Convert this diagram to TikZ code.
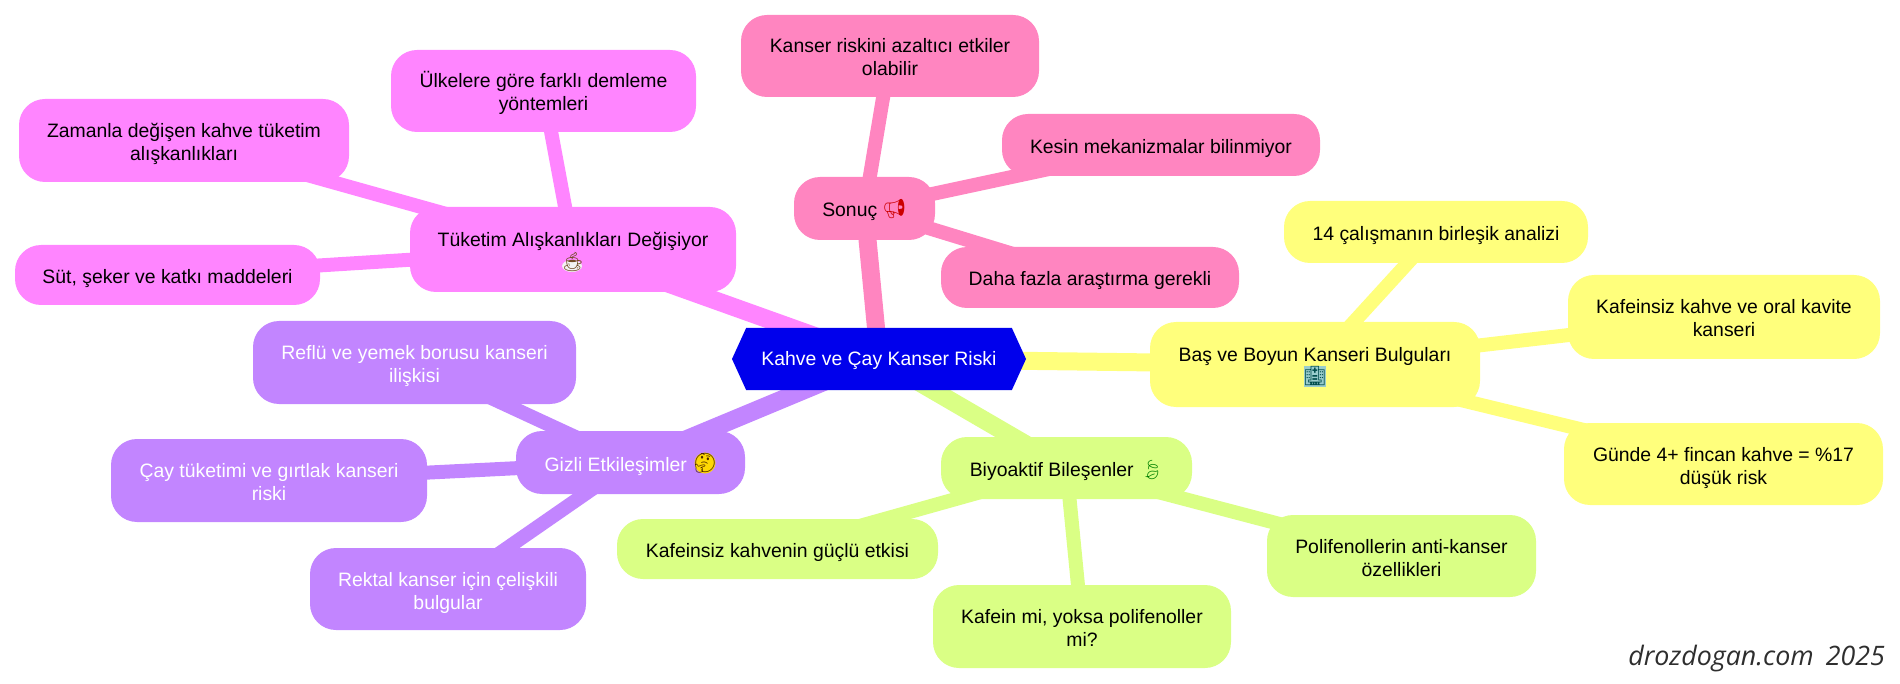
\documentclass[tikz,border=0pt]{standalone}
\usepackage{fontspec}
\setmainfont{Liberation Sans}
\newfontfamily\emojifont{Noto Emoji}
\newfontfamily\markfont{Open Sans}
\usetikzlibrary{shapes.symbols}
\pgfdeclarelayer{edges}
\pgfsetlayers{edges,main}
\definecolor{cpink}{HTML}{FF85C0}
\definecolor{cmag}{HTML}{FF85FF}
\definecolor{cpur}{HTML}{C285FF}
\definecolor{cgrn}{HTML}{DAFF85}
\definecolor{cyel}{HTML}{FFFF7C}
\definecolor{croot}{HTML}{0000EC}
\newcommand{\tstrut}{\rule{0pt}{22pt}}
\newcommand{\bstrut}{\rule[-5pt]{0pt}{1pt}}
\newcommand{\rstrut}{\rule{0pt}{19pt}}
\tikzset{
  x=1pt,y=-1pt,
  labeltext/.style={inner sep=0pt,align=center,font=\fontsize{19.4}{23}\selectfont},
  box/.style={labeltext,rounded corners=26pt,text=black},
  pinkbox/.style={box,fill=cpink},
  magbox/.style={box,fill=cmag},
  purbox/.style={box,fill=cpur,text=white},
  grnbox/.style={box,fill=cgrn},
  yelbox/.style={box,fill=cyel},
  rootbox/.style={labeltext,shape=signal,signal to=east and west,signal pointer angle=131,fill=croot,text=white},
  trunk/.style={line width=18pt},
  twig/.style={line width=14pt},
  emoji/.style={inner sep=0pt,font=\emojifont\fontsize{19}{23}\selectfont}
}
\newcommand{\ph}{\phantom{\emojifont\fontsize{19}{23}\selectfont 🤔}}
\newcommand{\bx}[7]{% style,name,x1,y1,x2,y2,text
  \node[#1,minimum width={#5-#3},minimum height={#6-#4}] (#2) at ({(#3+#5)/2},{(#4+#6)/2}) {\tstrut #7\bstrut};}
\begin{document}
\begin{tikzpicture}
\useasboundingbox (0,0) rectangle (1900,684);
\node[rootbox,minimum width=294,minimum height=62] (root) at (879,359) {\rstrut Kahve ve Çay Kanser Riski\bstrut};
\bx{pinkbox}{son}{794}{177}{935}{240}{Sonuç \ph}
\bx{pinkbox}{kan}{741}{15}{1039}{97}{Kanser riskini azaltıcı etkiler\\olabilir}
\bx{pinkbox}{kes}{1002}{114}{1320}{176}{Kesin mekanizmalar bilinmiyor}
\bx{pinkbox}{dah}{941}{247}{1239}{308}{Daha fazla araştırma gerekli}
\bx{magbox}{tuk}{410}{207}{736}{292}{Tüketim Alışkanlıkları Değişiyor\\\ph}
\bx{magbox}{ulk}{391}{50}{696}{132}{Ülkelere göre farklı demleme\\yöntemleri}
\bx{magbox}{zam}{19}{99}{349}{182}{Zamanla değişen kahve tüketim\\alışkanlıkları}
\bx{magbox}{sut}{15}{245}{320}{305}{Süt, şeker ve katkı maddeleri}
\bx{purbox}{giz}{516}{431}{745}{494}{Gizli Etkileşimler \ph}
\bx{purbox}{ref}{253}{321}{576}{404}{Reflü ve yemek borusu kanseri\\ilişkisi}
\bx{purbox}{cay}{111}{439}{427}{522}{Çay tüketimi ve gırtlak kanseri\\riski}
\bx{purbox}{rek}{310}{548}{586}{630}{Rektal kanser için çelişkili\\bulgular}
\bx{grnbox}{biy}{941}{437}{1192}{499}{Biyoaktif Bileşenler \ph}
\bx{grnbox}{kaf}{617}{519}{938}{579}{Kafeinsiz kahvenin güçlü etkisi}
\bx{grnbox}{kmi}{933}{585}{1231}{668}{Kafein mi, yoksa polifenoller\\mi?}
\bx{grnbox}{pol}{1267}{515}{1536}{597}{Polifenollerin anti-kanser\\özellikleri}
\bx{yelbox}{bas}{1150}{322}{1480}{407}{Baş ve Boyun Kanseri Bulguları\\\ph}
\bx{yelbox}{ond}{1284}{201}{1588}{263}{14 çalışmanın birleşik analizi}
\bx{yelbox}{orl}{1568}{275}{1880}{359}{Kafeinsiz kahve ve oral kavite\\kanseri}
\bx{yelbox}{gun}{1564}{423}{1883}{505}{Günde 4+ fincan kahve = \%17\\düşük risk}
\fill[white!90!gray] (572,266) ellipse (10 and 6);
\fill[yellow!75!orange] (705,463) circle (10.5);
\fill[teal!40!white] (1304,366) rectangle (1326,387);
\node[emoji,text=red!80!black] (emegaphone) at (894.5,209) {📢};
\node[emoji,text=brown!60!black] (ecoffee) at (573,262) {☕};
\node[emoji,text=black!70!orange] (ethink) at (705,463) {🤔};
\node[emoji,text=teal!60!black] (ehosp) at (1315,376) {🏥};
\node[emoji,text=green!50!black] (eleaf) at (1152,470) {🍃};
\node[anchor=base east,text=black!82,font=\markfont\itshape\fontsize{26.8}{30}\selectfont,inner sep=0pt] (mark) at (1885,665) {drozdogan.com\hspace{0.45em}2025};
\begin{pgfonlayer}{edges}
\draw[trunk,cpink] (root.center) -- (son.center);
\draw[twig,cpink] (son.center) -- (kan.center);
\draw[twig,cpink] (son.center) -- (kes.center);
\draw[twig,cpink] (son.center) -- (dah.center);
\draw[trunk,cmag] (root.center) -- (tuk.center);
\draw[twig,cmag] (tuk.center) -- (ulk.center);
\draw[twig,cmag] (tuk.center) -- (zam.center);
\draw[twig,cmag] (tuk.center) -- (sut.center);
\draw[trunk,cpur] (root.center) -- (giz.center);
\draw[twig,cpur] (giz.center) -- (ref.center);
\draw[twig,cpur] (giz.center) -- (cay.center);
\draw[twig,cpur] (giz.center) -- (rek.center);
\draw[trunk,cgrn] (root.center) -- (biy.center);
\draw[twig,cgrn] (biy.center) -- (kaf.center);
\draw[twig,cgrn] (biy.center) -- (kmi.center);
\draw[twig,cgrn] (biy.center) -- (pol.center);
\draw[trunk,cyel] (root.center) -- (bas.center);
\draw[twig,cyel] (bas.center) -- (ond.center);
\draw[twig,cyel] (bas.center) -- (orl.center);
\draw[twig,cyel] (bas.center) -- (gun.center);
\end{pgfonlayer}
\end{tikzpicture}
\end{document}
